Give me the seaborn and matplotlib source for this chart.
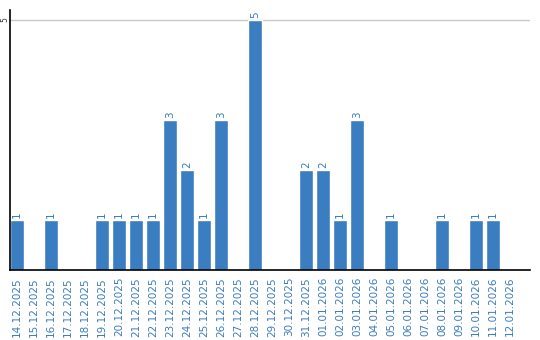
import matplotlib
matplotlib.use("Agg")
import matplotlib.pyplot as plt
import seaborn as sns
import pandas as pd

dates = ["14.12.2025", "15.12.2025", "16.12.2025", "17.12.2025", "18.12.2025",
         "19.12.2025", "20.12.2025", "21.12.2025", "22.12.2025", "23.12.2025",
         "24.12.2025", "25.12.2025", "26.12.2025", "27.12.2025", "28.12.2025",
         "29.12.2025", "30.12.2025", "31.12.2025", "01.01.2026", "02.01.2026",
         "03.01.2026", "04.01.2026", "05.01.2026", "06.01.2026", "07.01.2026",
         "08.01.2026", "09.01.2026", "10.01.2026", "11.01.2026", "12.01.2026"]
counts = [1, 0, 1, 0, 0, 1, 1, 1, 1, 3, 2, 1, 3, 0, 5, 0, 0, 2, 2, 1, 3, 0, 1, 0, 0, 1, 0, 1, 1, 0]
yticks = [5]

BAR = "#3b7dc1"
TXT = "#3a7cc0"

sns.set_style("white")
plt.rcParams["font.family"] = ["DejaVu Sans"]

df = pd.DataFrame({"date": dates, "count": counts})

fig = plt.figure(figsize=(5.4, 3.4), dpi=100)
ax = fig.add_axes([10 / 540, 70 / 340, 520 / 540, 260 / 340])

sns.barplot(data=df, x="date", y="count", color=BAR, saturation=1, width=0.82, ax=ax)

ax.set_xlim(-0.41, 30.18)
ax.set_ylim(0, 5.2)
ax.set_yticks(yticks)
ax.set_yticklabels([str(v) for v in yticks], rotation=90, va="center", fontsize=5.5, color="#333333")
ax.tick_params(axis="y", length=0, pad=0.5)
ax.tick_params(axis="x", length=0, pad=5)
plt.setp(ax.get_xticklabels(), rotation=90, fontsize=7.5, color=TXT, va="top", ha="center")
ax.set_xlabel("")
ax.set_ylabel("")

ax.grid(False)
for v in yticks:
    ax.axhline(v, color="#c8c8c8", lw=1, zorder=0)

for s in ["top", "right"]:
    ax.spines[s].set_visible(False)
ax.spines["left"].set_color("black")
ax.spines["bottom"].set_color("black")
ax.spines["left"].set_linewidth(1.2)
ax.spines["bottom"].set_linewidth(1.2)

labels = [str(c) if c > 0 else "" for c in counts]
ax.bar_label(ax.containers[0], labels=labels, rotation=90, padding=1.5, fontsize=7.5, color=TXT)

fig.savefig("out.png", dpi=100)
